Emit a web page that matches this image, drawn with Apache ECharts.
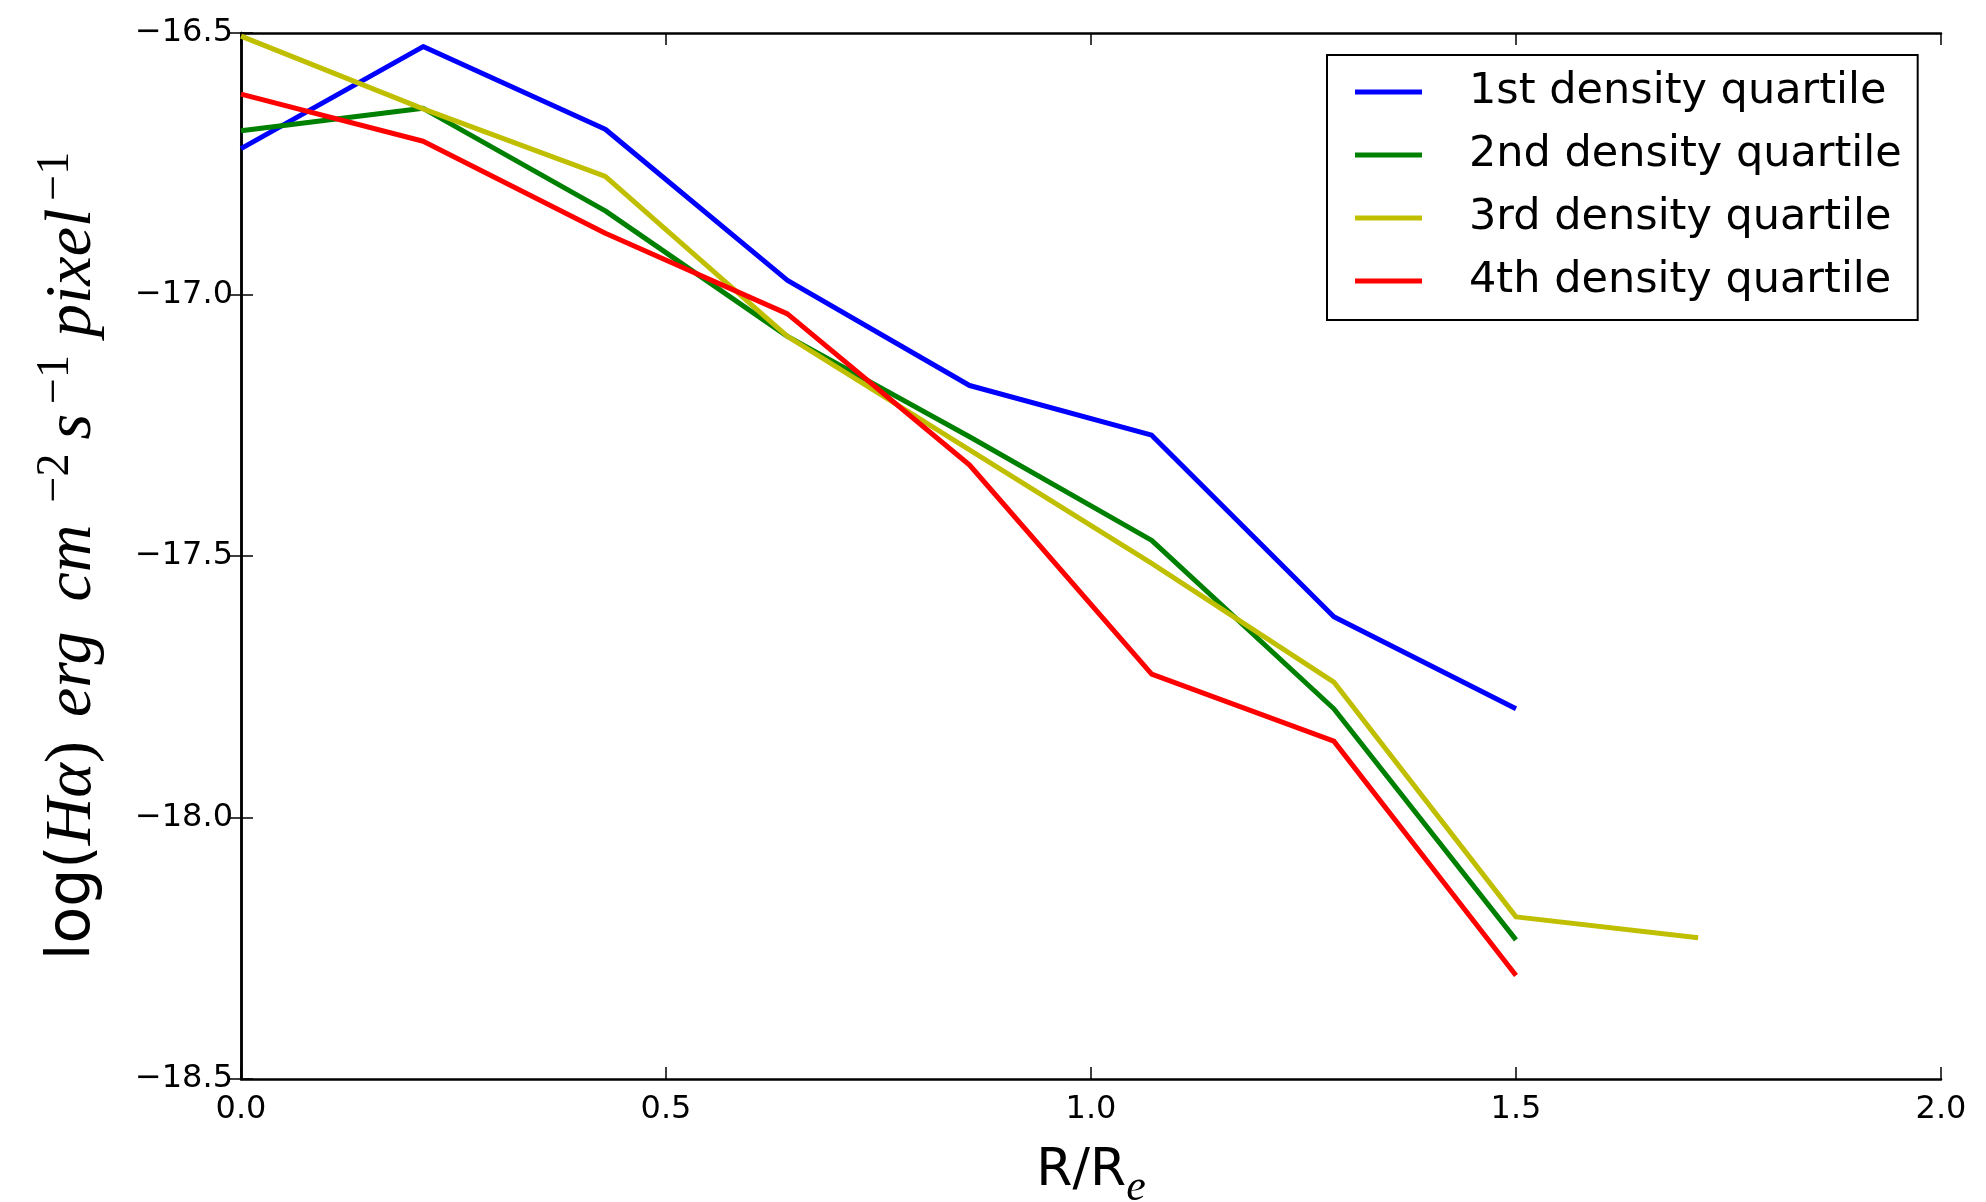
<!DOCTYPE html>
<html>
<head>
<meta charset="utf-8">
<script src="https://cdn.jsdelivr.net/npm/echarts@6/dist/echarts.min.js"></script>
<style>
  html, body { margin: 0; padding: 0; background: #fff; }
  #chart { width: 1986px; height: 1202px; }
</style>
</head>
<body>
<div id="chart"></div>
<script>
// ---- data ----
const radius = [0, 0.2143, 0.4286, 0.6429, 0.8571, 1.0714, 1.2857, 1.5, 1.7143];
const q1 = [-16.721, -16.526, -16.684, -16.973, -17.174, -17.269, -17.616, -17.792];
const q2 = [-16.687, -16.644, -16.840, -17.080, -17.272, -17.470, -17.792, -18.234];
const q3 = [-16.506, -16.645, -16.774, -17.080, -17.297, -17.514, -17.741, -18.190, -18.230];
const q4 = [-16.617, -16.707, -16.883, -17.037, -17.326, -17.726, -17.854, -18.302];
const seriesNames = ['1st density quartile', '2nd density quartile', '3rd density quartile', '4th density quartile'];
const seriesColors = ['#0000ff', '#008000', '#bfbf00', '#ff0000'];
const xTicks = [0.0, 0.5, 1.0, 1.5, 2.0];
const yTicks = [-18.5, -18.0, -17.5, -17.0, -16.5];

const fmt = v => v.toFixed(1).replace('-', '\u2212');
const pairs = arr => arr.map((v, i) => [radius[i], v]);
const allSeries = [q1, q2, q3, q4];

const chart = echarts.init(document.getElementById('chart'), null, { renderer: 'canvas' });

const tickFont = { fontFamily: 'DejaVu Sans', fontSize: 32, color: '#000' };
const axisLineStyle = { color: '#000', width: 2.5 };
const tickStyle = { show: true, inside: true, length: 12, lineStyle: { color: '#000', width: 1.5 } };

const xMin = xTicks[0], xMax = xTicks[xTicks.length - 1];
const yMin = yTicks[0], yMax = yTicks[yTicks.length - 1];

const LH = 80;
const sp = w => ({ fontFamily: 'Liberation Serif', fontSize: 20, lineHeight: LH, width: w });

const option = {
  animation: false,
  backgroundColor: '#fff',
  grid: { left: 241, right: 45, top: 33, bottom: 123, containLabel: false, outerBoundsMode: 'none' },
  legend: {
    orient: 'vertical',
    left: 1327, top: 55,
    padding: [12, 16, 14, 28],
    itemGap: 13,
    itemWidth: 67, itemHeight: 5,
    borderColor: '#000', borderWidth: 2, borderRadius: 0,
    backgroundColor: '#fff',
    textStyle: { fontFamily: 'DejaVu Sans', fontSize: 43, color: '#000', lineHeight: 50, padding: [0, 0, 0, 42] },
    data: seriesNames.map(n => ({ name: n, icon: 'rect' }))
  },
  xAxis: [
    {
      type: 'value', min: xMin, max: xMax, interval: 0.5, position: 'bottom',
      axisLine: { show: true, lineStyle: axisLineStyle },
      axisTick: tickStyle,
      axisLabel: Object.assign({ margin: 15, formatter: fmt }, tickFont),
      splitLine: { show: false },
      name: '{m|R/R}{s|e}',
      nameLocation: 'middle',
      nameGap: 60,
      nameTextStyle: {
        rich: {
          m: { fontFamily: 'DejaVu Sans', fontSize: 52, lineHeight: 64, color: '#000' },
          s: { fontFamily: 'Liberation Serif', fontStyle: 'italic', fontSize: 44, lineHeight: 16, height: 30, verticalAlign: 'bottom', color: '#000' }
        }
      }
    },
    {
      type: 'value', min: xMin, max: xMax, interval: 0.5, position: 'top',
      axisLine: { show: true, lineStyle: axisLineStyle },
      axisTick: tickStyle,
      axisLabel: { show: false },
      splitLine: { show: false }
    }
  ],
  yAxis: [
    {
      type: 'value', min: yMin, max: yMax, interval: 0.5, position: 'left',
      axisLine: { show: true, lineStyle: axisLineStyle },
      axisTick: tickStyle,
      axisLabel: Object.assign({ margin: 8, formatter: fmt }, tickFont),
      splitLine: { show: false },
      name: '{a|log(}{b|H\u03b1}{c|)}{g1| }{b|erg}{g2| }{b|cm}{g3| }{p|\u22122}{g4| }{b|s}{g5| }{p|\u22121}{g6| }{b|pixel}{g7| }{p|\u22121}',
      nameLocation: 'middle',
      nameRotate: 90,
      nameGap: 128,
      nameTextStyle: {
        rich: {
          a: { fontFamily: 'DejaVu Sans', fontSize: 60, lineHeight: LH, color: '#000' },
          b: { fontFamily: 'Liberation Serif', fontStyle: 'italic', fontSize: 66, lineHeight: LH, color: '#000' },
          c: { fontFamily: 'Liberation Serif', fontSize: 66, lineHeight: LH, color: '#000' },
          g1: sp(24), g2: sp(30), g3: sp(22), g4: sp(14), g5: sp(10), g6: sp(18), g7: sp(8),
          p: { fontFamily: 'Liberation Serif', fontSize: 46, lineHeight: 16, height: 46, verticalAlign: 'top', color: '#000' }
        }
      }
    },
    {
      type: 'value', min: yMin, max: yMax, interval: 0.5, position: 'right',
      axisLine: { show: true, lineStyle: axisLineStyle },
      axisTick: tickStyle,
      axisLabel: { show: false },
      splitLine: { show: false }
    }
  ],
  series: allSeries.map((arr, k) => ({
    name: seriesNames[k],
    type: 'line',
    xAxisIndex: 0, yAxisIndex: 0,
    data: pairs(arr),
    showSymbol: false,
    symbol: 'none',
    color: seriesColors[k],
    lineStyle: { color: seriesColors[k], width: 5, cap: 'butt', join: 'round' },
    itemStyle: { color: seriesColors[k] },
    clip: true,
    z: 2 + k
  }))
};

chart.setOption(option);
</script>
</body>
</html>
